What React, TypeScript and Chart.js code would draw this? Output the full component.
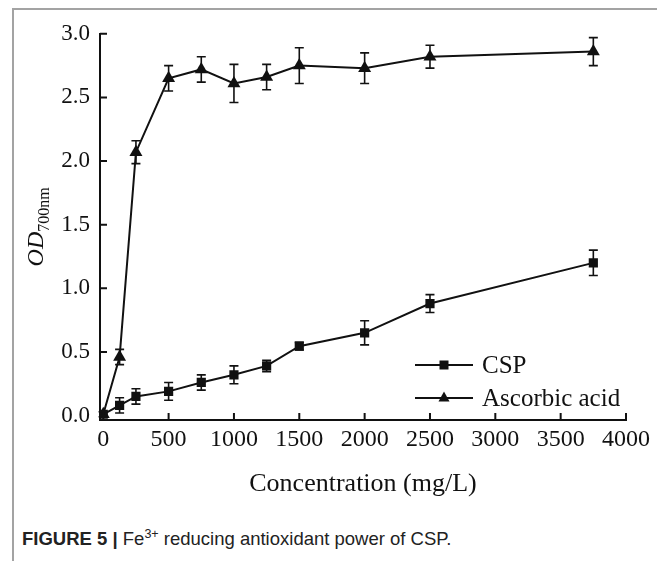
import React, { useEffect, useRef } from "react";
import { Chart, registerables } from "chart.js";

Chart.register(...registerables);

// ---- Data ----
const concentrations = [0, 125, 250, 500, 750, 1000, 1250, 1500, 2000, 2500, 3750];
const cspValues = [0.01, 0.08, 0.15, 0.19, 0.26, 0.32, 0.39, 0.545, 0.65, 0.88, 1.2];
const cspErrors = [0.02, 0.06, 0.06, 0.07, 0.06, 0.07, 0.045, 0.03, 0.095, 0.07, 0.1];
const ascorbicValues = [0.01, 0.46, 2.07, 2.65, 2.72, 2.61, 2.66, 2.75, 2.73, 2.82, 2.86];
const ascorbicErrors = [0.02, 0.06, 0.09, 0.1, 0.1, 0.15, 0.1, 0.14, 0.12, 0.09, 0.11];
const xTickValues = [0, 500, 1000, 1500, 2000, 2500, 3000, 3500, 4000];
const yTickValues = [0, 0.5, 1.0, 1.5, 2.0, 2.5, 3.0];
const seriesNames = ["CSP", "Ascorbic acid"];
const errorSets = [cspErrors, ascorbicErrors];

const INK = "#111111";
const SERIF = "'Liberation Serif', 'Times New Roman', serif";

const errorBarPlugin = {
  id: "errorBars",
  afterDatasetsDraw(chart: any) {
    const ctx = chart.ctx;
    const ys = chart.scales.y;
    chart.data.datasets.forEach((ds: any, i: number) => {
      const meta = chart.getDatasetMeta(i);
      const errs = errorSets[i];
      meta.data.forEach((pt: any, j: number) => {
        const v = ds.data[j].y;
        const e = errs[j];
        const top = ys.getPixelForValue(v + e);
        const bot = ys.getPixelForValue(v - e);
        ctx.save();
        ctx.strokeStyle = INK;
        ctx.lineWidth = 1.6;
        ctx.beginPath();
        ctx.moveTo(pt.x, top);
        ctx.lineTo(pt.x, bot);
        ctx.moveTo(pt.x - 4.5, top);
        ctx.lineTo(pt.x + 4.5, top);
        ctx.moveTo(pt.x - 4.5, bot);
        ctx.lineTo(pt.x + 4.5, bot);
        ctx.stroke();
        ctx.restore();
      });
    });
  },
};

const inwardTicksPlugin = {
  id: "inwardTicks",
  afterDraw(chart: any) {
    const ctx = chart.ctx;
    const xs = chart.scales.x;
    const ys = chart.scales.y;
    const { left, bottom } = chart.chartArea;
    ctx.save();
    ctx.strokeStyle = INK;
    ctx.lineWidth = 2;
    ctx.beginPath();
    xTickValues.forEach((v) => {
      const px = xs.getPixelForValue(v);
      ctx.moveTo(px, bottom);
      ctx.lineTo(px, bottom - 7);
    });
    yTickValues.forEach((v) => {
      const py = ys.getPixelForValue(v);
      ctx.moveTo(left, py);
      ctx.lineTo(left + 7, py);
    });
    ctx.stroke();
    ctx.restore();
  },
};

const yTitlePlugin = {
  id: "yTitle",
  afterDraw(chart: any) {
    const ctx = chart.ctx;
    const { top, bottom } = chart.chartArea;
    const cy = (top + bottom) / 2 + 0;
    ctx.save();
    ctx.translate(29, cy);
    ctx.rotate(-Math.PI / 2);
    ctx.fillStyle = INK;
    ctx.textBaseline = "alphabetic";
    ctx.textAlign = "left";
    const mainFont = `italic 24px ${SERIF}`;
    const subFont = `16px ${SERIF}`;
    ctx.font = mainFont;
    const w1 = ctx.measureText("OD").width;
    ctx.font = subFont;
    const w2 = ctx.measureText("700nm").width;
    const start = -(w1 + w2) / 2;
    ctx.font = mainFont;
    ctx.fillText("OD", start, 0);
    ctx.font = subFont;
    ctx.fillText("700nm", start + w1, 6);
    ctx.restore();
  },
};

const legendPlugin = {
  id: "customLegend",
  afterDraw(chart: any) {
    const ctx = chart.ctx;
    const { right, bottom } = chart.chartArea;
    const x0 = right - 211;
    const x1 = right - 153;
    const mx = (x0 + x1) / 2;
    const tx = right - 144;
    const rows = [bottom - 55, bottom - 22];
    chart.data.datasets.forEach((ds: any, i: number) => {
      const y = rows[i];
      ctx.save();
      ctx.strokeStyle = INK;
      ctx.lineWidth = 2;
      ctx.beginPath();
      ctx.moveTo(x0, y);
      ctx.lineTo(x1, y);
      ctx.stroke();
      ctx.fillStyle = INK;
      ctx.beginPath();
      if (ds.pointStyle === "rect") {
        ctx.rect(mx - 4.5, y - 4.5, 9, 9);
      } else {
        ctx.moveTo(mx, y - 6.5);
        ctx.lineTo(mx + 5.5, y + 3.5);
        ctx.lineTo(mx - 5.5, y + 3.5);
        ctx.closePath();
      }
      ctx.fill();
      ctx.font = `25px ${SERIF}`;
      ctx.textBaseline = "middle";
      ctx.textAlign = "left";
      ctx.fillText(seriesNames[i], tx, y + 1);
      ctx.restore();
    });
  },
};

export default function App() {
  const canvasRef = useRef<HTMLCanvasElement | null>(null);

  useEffect(() => {
    if (!canvasRef.current) return;
    const chart = new Chart(canvasRef.current, {
      type: "scatter",
      data: {
        datasets: [
          {
            label: seriesNames[0],
            data: concentrations.map((c, i) => ({ x: c, y: cspValues[i] })),
            showLine: true,
            borderColor: INK,
            backgroundColor: INK,
            borderWidth: 2,
            pointStyle: "rect",
            pointRadius: 6.5,
            pointBorderWidth: 0,
            pointBackgroundColor: INK,
          },
          {
            label: seriesNames[1],
            data: concentrations.map((c, i) => ({ x: c, y: ascorbicValues[i] })),
            showLine: true,
            borderColor: INK,
            backgroundColor: INK,
            borderWidth: 2,
            pointStyle: "triangle",
            pointRadius: 7.5,
            pointBorderWidth: 0,
            pointBackgroundColor: INK,
          },
        ],
      },
      options: {
        responsive: false,
        animation: false,
        layout: { padding: { left: 0, right: 34, top: 23.5, bottom: 0 } },
        plugins: {
          legend: { display: false },
          tooltip: { enabled: false },
        },
        scales: {
          x: {
            type: "linear",
            min: -25,
            max: 4000,
            afterBuildTicks: (scale: any) => {
              scale.ticks = xTickValues.map((v) => ({ value: v }));
            },
            afterFit: (scale: any) => {
              scale.height = 80;
            },
            grid: { display: false, drawTicks: false },
            border: { display: true, color: INK, width: 2 },
            ticks: {
              color: INK,
              font: { family: SERIF, size: 24 },
              padding: 5,
              maxRotation: 0,
              autoSkip: false,
              callback: (v: any) => String(v),
            },
            title: {
              display: true,
              text: "Concentration (mg/L)",
              color: INK,
              font: { family: SERIF, size: 26 },
              padding: { top: 0, bottom: 0 },
            },
          },
          y: {
            type: "linear",
            min: -0.035,
            max: 3.0,
            afterBuildTicks: (scale: any) => {
              scale.ticks = yTickValues.map((v) => ({ value: v }));
            },
            afterFit: (scale: any) => {
              scale.width = 86;
            },
            grid: { display: false, drawTicks: false },
            border: { display: true, color: INK, width: 2 },
            ticks: {
              color: INK,
              font: { family: SERIF, size: 23 },
              padding: 10,
              autoSkip: false,
              callback: (v: any) => Number(v).toFixed(1),
            },
          },
        },
      },
      plugins: [errorBarPlugin, inwardTicksPlugin, yTitlePlugin, legendPlugin],
    } as any);
    return () => chart.destroy();
  }, []);

  return (
    <div
      style={{
        position: "relative",
        marginLeft: 4,
        width: 646,
        height: 556,
        borderLeft: "2px solid #a3a3a3",
        borderTop: "2px solid #a3a3a3",
        borderRight: "2px solid #a3a3a3",
        background: "#ffffff",
      }}
    >
      <style>{`html,body{overflow:hidden;}`}</style>
      <canvas ref={canvasRef} width={646} height={490} style={{ display: "block" }} />
      <div
        style={{
          position: "absolute",
          left: 8,
          top: 518,
          fontFamily: "'Liberation Sans', Arial, sans-serif",
          fontSize: 18.5,
          lineHeight: "22px",
          color: "#222",
          whiteSpace: "nowrap",
        }}
      >
        <span style={{ fontWeight: "bold" }}>FIGURE 5</span>{" "}
        <span style={{ fontWeight: "bold" }}>|</span> Fe
        <sup style={{ fontSize: 12.5, lineHeight: 0 }}>3+</sup> reducing antioxidant power of CSP.
      </div>
    </div>
  );
}
